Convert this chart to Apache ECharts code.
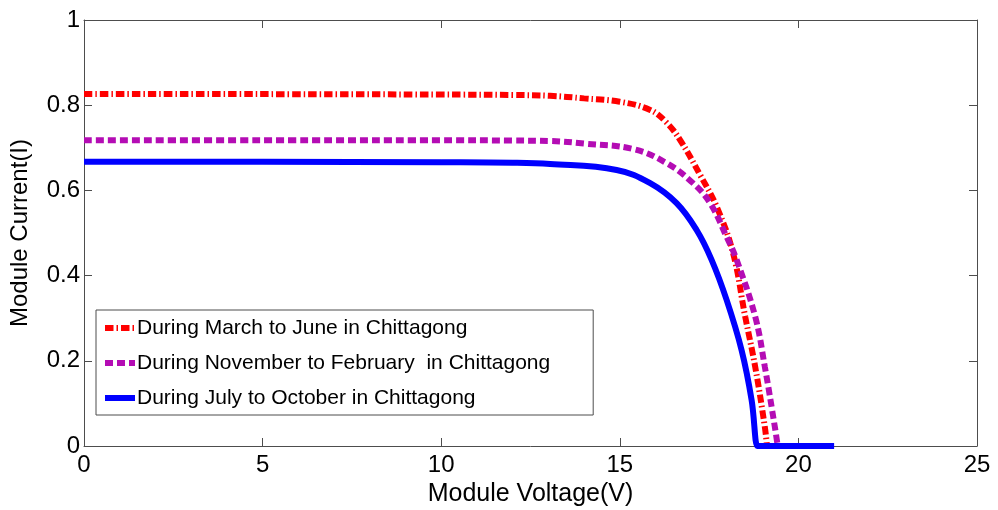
<!DOCTYPE html>
<html>
<head>
<meta charset="utf-8">
<title>Module I-V characteristics, Chittagong</title>
<script src="https://cdn.jsdelivr.net/npm/echarts@6/dist/echarts.min.js"></script>
<style>
  html, body { margin: 0; padding: 0; background: #fff; }
  #chart { width: 998px; height: 510px; }
</style>
</head>
<body>
<div id="chart"></div>
<script>
// Axis ticks
const voltageTicks = [0, 5, 10, 15, 20, 25];
const currentTicks = [0, 0.2, 0.4, 0.6, 0.8, 1];

// Series names
const seriesNames = [
  'During March to June in Chittagong',
  'During November to February  in Chittagong',
  'During July to October in Chittagong'
];

// March to June: module voltage (V) and current (I)
const marJunVoltage = [0, 5, 10, 12, 13.05, 14, 15, 15.85, 16.3, 16.69, 17.25, 17.71, 18.17, 18.51, 18.79, 19.06, 19.12];
const marJunCurrent = [0.826, 0.826, 0.825, 0.824, 0.822, 0.816, 0.808, 0.789, 0.76, 0.718, 0.636, 0.562, 0.453, 0.304, 0.186, 0.045, 0];

// November to February
const novFebVoltage = [0, 5, 10, 12, 13.05, 14, 15.38, 16.31, 17.05, 17.53, 17.99, 18.27, 18.79, 19.06, 19.34, 19.42];
const novFebCurrent = [0.718, 0.718, 0.718, 0.717, 0.716, 0.71, 0.697, 0.664, 0.617, 0.57, 0.491, 0.437, 0.304, 0.186, 0.045, 0];

// July to October (open-circuit point, then the zero-current run)
const julOctVoltage = [0, 5, 10, 12, 13.05, 14.91, 15.85, 16.59, 17.15, 17.57, 17.99, 18.41, 18.69, 18.85, 18.87, 21.0];
const julOctCurrent = [0.667, 0.667, 0.666, 0.665, 0.662, 0.648, 0.617, 0.57, 0.507, 0.437, 0.343, 0.225, 0.108, 0, 0, 0];

const pairs = (xs, ys) => xs.map((x, i) => [x, ys[i]]);

const FONT = '"Liberation Sans", Arial, sans-serif';
const AXIS_COLOR = '#4d4d4d';

const chart = echarts.init(document.getElementById('chart'), null, { renderer: 'canvas' });

const baseAxis = {
  axisLine: { show: true, onZero: false, lineStyle: { color: AXIS_COLOR, width: 1 } },
  axisTick: { show: true, inside: true, length: 8, lineStyle: { color: AXIS_COLOR, width: 1 } },
  splitLine: { show: false }
};

chart.setOption({
  animation: false,
  backgroundColor: '#ffffff',
  textStyle: { fontFamily: FONT },
  grid: { left: 84, right: 21, top: 20, bottom: 64, containLabel: false, outerBoundsMode: 'none' },
  xAxis: [
    Object.assign({}, baseAxis, {
      type: 'value',
      position: 'bottom',
      min: voltageTicks[0],
      max: voltageTicks[voltageTicks.length - 1],
      interval: voltageTicks[1] - voltageTicks[0],
      name: 'Module Voltage(V)',
      nameLocation: 'middle',
      nameGap: 31,
      nameTextStyle: { color: '#000', fontSize: 25, fontFamily: FONT },
      axisLabel: { color: '#000', fontSize: 24, fontFamily: FONT, margin: 7 }
    }),
    Object.assign({}, baseAxis, {
      type: 'value',
      position: 'top',
      min: voltageTicks[0],
      max: voltageTicks[voltageTicks.length - 1],
      interval: voltageTicks[1] - voltageTicks[0],
      axisLabel: { show: false }
    })
  ],
  yAxis: [
    Object.assign({}, baseAxis, {
      type: 'value',
      position: 'left',
      min: currentTicks[0],
      max: currentTicks[currentTicks.length - 1],
      interval: currentTicks[1] - currentTicks[0],
      name: 'Module Current(I)',
      nameLocation: 'middle',
      nameGap: 52,
      nameTextStyle: { color: '#000', fontSize: 24, fontFamily: FONT },
      axisLabel: { color: '#000', fontSize: 24, fontFamily: FONT, margin: 4 }
    }),
    Object.assign({}, baseAxis, {
      type: 'value',
      position: 'right',
      min: currentTicks[0],
      max: currentTicks[currentTicks.length - 1],
      interval: currentTicks[1] - currentTicks[0],
      axisLabel: { show: false }
    })
  ],
  legend: {
    orient: 'vertical',
    left: 96,
    top: 310,
    data: seriesNames,
    backgroundColor: '#ffffff',
    borderColor: '#4d4d4d',
    borderWidth: 1,
    borderRadius: 0,
    padding: [6, 43, 5, 6],
    itemWidth: 30,
    itemHeight: 14,
    itemGap: 11,
    itemStyle: { color: 'rgba(0,0,0,0)', borderColor: 'rgba(0,0,0,0)', borderWidth: 0 },
    lineStyle: { width: 6 },
    textStyle: { color: '#000', fontSize: 21, lineHeight: 24, fontFamily: FONT, padding: [0, 0, 0, -3] }
  },
  series: [
    {
      name: seriesNames[0],
      type: 'line',
      data: pairs(marJunVoltage, marJunCurrent),
      showSymbol: false,
      symbol: 'none',
      smooth: 0.4,
      z: 2,
      lineStyle: { color: '#ff0000', width: 6, type: [8.5, 3, 1.5, 3], cap: 'butt' },
      itemStyle: { color: '#ff0000' }
    },
    {
      name: seriesNames[1],
      type: 'line',
      data: pairs(novFebVoltage, novFebCurrent),
      showSymbol: false,
      symbol: 'none',
      smooth: 0.4,
      z: 3,
      lineStyle: { color: '#b40cb4', width: 6, type: [8, 4], cap: 'butt' },
      itemStyle: { color: '#b40cb4' }
    },
    {
      name: seriesNames[2],
      type: 'line',
      data: pairs(julOctVoltage, julOctCurrent),
      showSymbol: false,
      symbol: 'none',
      smooth: 0.4,
      z: 4,
      lineStyle: { color: '#0000ff', width: 6, type: 'solid' },
      itemStyle: { color: '#0000ff' }
    }
  ]
});
</script>
</body>
</html>
